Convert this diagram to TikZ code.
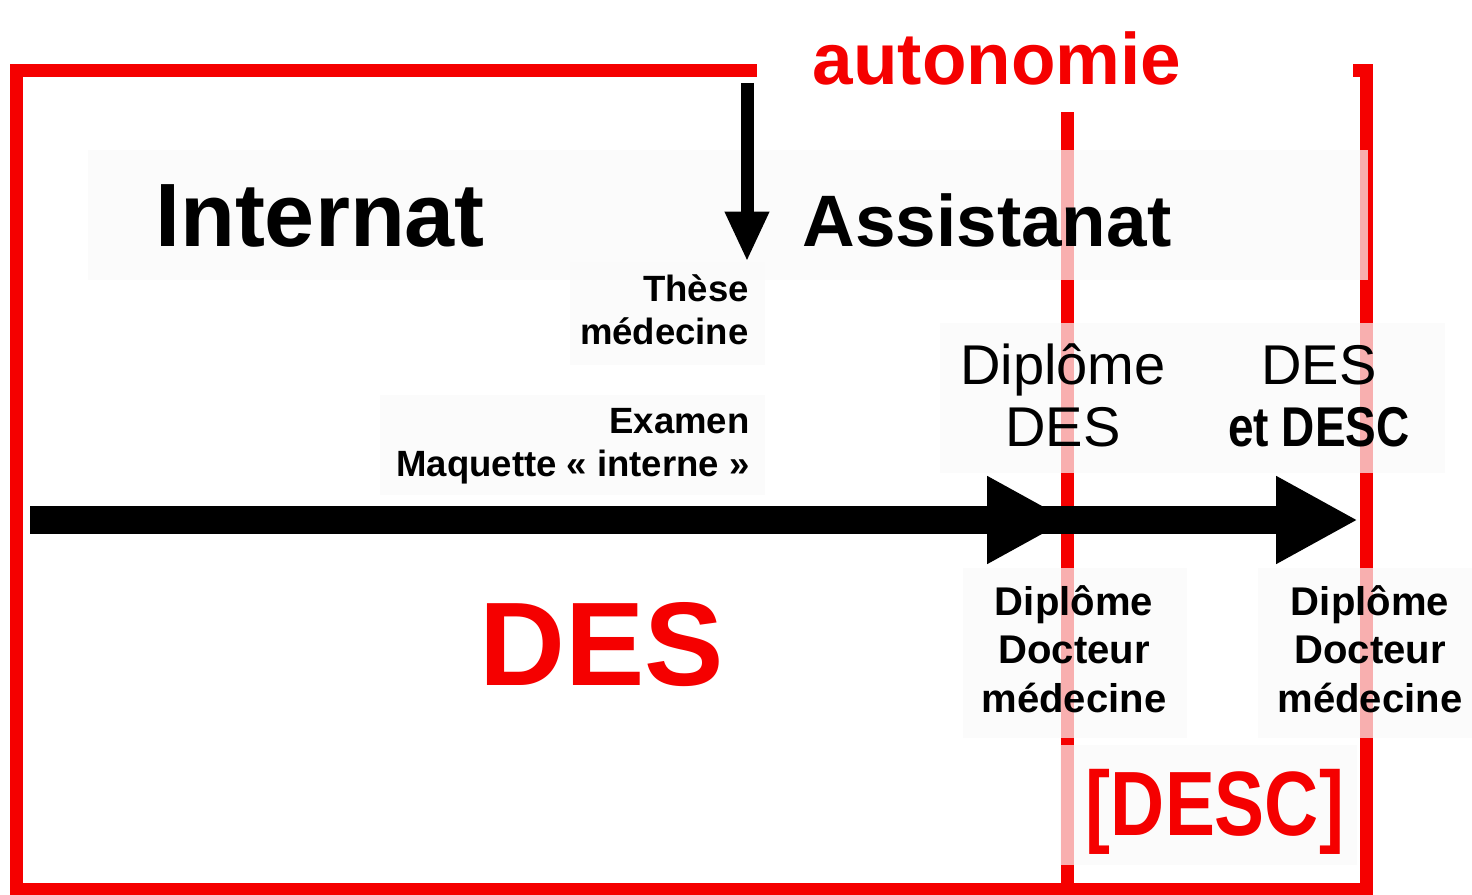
\documentclass[tikz,border=0pt]{standalone}
\usepackage{fontspec}
\setmainfont{Liberation Sans}
\newfontfamily\narrowfont[FakeStretch=0.82]{Liberation Sans}
\usetikzlibrary{arrows.meta}
\definecolor{framered}{RGB}{245,0,0}

\begin{document}
\begin{tikzpicture}[x=0.02cm, y=-0.02cm,
		frame_style/.style={draw=framered, line width=7.4pt},
		cover_style/.style={rectangle, fill=white, inner sep=0pt},
		box_style/.style={rectangle, fill=black!2, fill opacity=0.7, inner sep=0pt},
		label_style/.style={inner sep=0pt, anchor=base, align=center, text=black},
		arrow_style/.style={draw=black, line width=7.4pt, -{Triangle[length=1cm, width=0.82cm]}},
		time_style/.style={draw=black, line width=15.4pt, -{Triangle[length=1.64cm, width=1.64cm]}}]

		\useasboundingbox (0,0) rectangle (1472,895);

		% cadre
		\draw[frame_style] (16.5,71) rectangle (1366,889);
		\draw[frame_style] (1067,71) -- (1067,889);

		% fonds des textes
		\node[cover_style, minimum width=11.92cm, minimum height=2.12cm] (b_autonomie) at (1055,59) {};
		\node[box_style, minimum width=13.38cm, minimum height=2.6cm] (b_internat) at (422.5,215) {};
		\node[box_style, minimum width=12.22cm, minimum height=2.6cm] (b_assistanat) at (1062.5,215) {};
		\node[box_style, minimum width=3.9cm, minimum height=2.06cm] (b_these) at (667.5,313.5) {};
		\node[box_style, minimum width=7.7cm, minimum height=2cm] (b_examen) at (572.5,445) {};
		\node[box_style, minimum width=10.1cm, minimum height=3cm] (b_diplome) at (1192.5,398) {};
		\node[box_style, minimum width=4.48cm, minimum height=3.4cm] (b_docteur_l) at (1075,653) {};
		\node[box_style, minimum width=4.28cm, minimum height=3.4cm] (b_docteur_r) at (1365,653) {};
		\node[box_style, minimum width=5.94cm, minimum height=2.4cm] (b_desc) at (1208.5,805) {};

		% fleches
		\coordinate (c_top) at (747,83);
		\coordinate (c_start) at (30,520);
		\coordinate (c_des) at (1069,520);
		\coordinate (c_back) at (1000,520);
		\coordinate (c_desc) at (1358,520);
		\draw[time_style] (c_start) -- (c_des);
		\draw[time_style] (c_back) -- (c_desc);
		\draw[arrow_style] (c_top) -- (c_top |- b_these.north);

		% textes (base = derniere ligne)
		\node[label_style, text=framered, font=\bfseries\fontsize{41.5pt}{48pt}\selectfont] (autonomie) at (997,85) {autonomie};
		\node[label_style, font=\bfseries\fontsize{51.2pt}{58pt}\selectfont] (internat) at (320,247) {Internat};
		\node[label_style, font=\bfseries\fontsize{41.5pt}{48pt}\selectfont] (assistanat) at (987,247) {Assistanat};
		\node[label_style, anchor=base east, align=right, font=\bfseries\fontsize{20.8pt}{24.5pt}\selectfont] (these) at (749,345) {Thèse\\médecine};
		\node[label_style, anchor=base east, align=right, font=\bfseries\fontsize{20.8pt}{25pt}\selectfont] (examen) at (750,477) {Examen\\Maquette « interne »};
		\node[label_style, font=\fontsize{31.9pt}{35.3pt}\selectfont] (dipl_des) at (1063,447) {Diplôme\\DES};
		\node[label_style, font=\fontsize{31.9pt}{35.3pt}\selectfont] (des_desc) at (1319,447) {DES\\{\narrowfont\bfseries et DESC}};
		\node[label_style, font=\bfseries\fontsize{22.8pt}{27.6pt}\selectfont] (docteur_l) at (1074,712) {Diplôme\\Docteur\\médecine};
		\node[label_style, font=\bfseries\fontsize{22.8pt}{27.6pt}\selectfont] (docteur_r) at (1370,712) {Diplôme\\Docteur\\médecine};
		\node[label_style, text=framered, font=\bfseries\fontsize{67.7pt}{75pt}\selectfont] (des) at (602,685) {DES};
		\node[label_style, text=framered, font=\narrowfont\bfseries\fontsize{52pt}{60pt}\selectfont] (desc) at (1215,835) {[DESC]};

\end{tikzpicture}
\end{document}
